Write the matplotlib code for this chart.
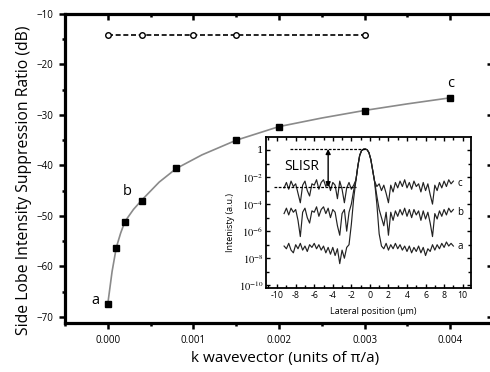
import matplotlib
matplotlib.use("Agg")
import matplotlib.pyplot as plt
from matplotlib.ticker import MultipleLocator, FixedLocator, FixedFormatter, FormatStrFormatter
import numpy as np

plt.rcParams['font.family'] = ['Open Sans', 'DejaVu Sans']
plt.rcParams['mathtext.fontset'] = 'stix'

# ---- main data ----
k_sq = [0.0, 0.0001, 0.0002, 0.0004, 0.0008, 0.0015, 0.002, 0.003, 0.004]
slisr_sq = [-67.4, -56.3, -51.2, -47.0, -40.5, -35.0, -32.4, -29.2, -26.6]

k_fit = [0.0, 0.00005, 0.0001, 0.00015, 0.0002, 0.0003, 0.0004, 0.0006, 0.0008,
         0.0011, 0.0015, 0.002, 0.0025, 0.003, 0.0035, 0.004]
slisr_fit = [-67.4, -61.0, -56.2, -53.4, -51.1, -48.7, -46.8, -43.3, -40.6,
             -37.9, -35.0, -32.3, -30.6, -29.1, -27.8, -26.6]

k_circ = [0.0, 0.0004, 0.001, 0.0015, 0.003]
slisr_circ = [-14.1, -14.1, -14.1, -14.1, -14.1]

point_labels = ['a', 'b', 'c']
label_k = [-0.00015, 0.00023, 0.004]
label_db = [-66.8, -45.2, -23.7]

# ---- inset data (log10 intensity) ----
x_left = [-9.25, -9.0, -8.75, -8.5, -8.25, -8.0, -7.75, -7.5, -7.25, -7.0, -6.75,
          -6.5, -6.25, -6.0, -5.75, -5.5, -5.25, -5.0, -4.75, -4.5, -4.25, -4.0,
          -3.75, -3.5, -3.25, -3.0, -2.75, -2.5, -2.25, -2.0, -1.75]
x_peak = [-1.5, -1.3, -1.1, -0.9, -0.7, -0.5, -0.3, -0.1, 0.1, 0.3, 0.5]
log_peak = [-2.2, -1.2, -0.4, -0.05, 0.05, 0.07, 0.02, -0.2, -0.7, -1.5, -2.3]
x_right = [0.75, 1.0, 1.25, 1.5, 1.75, 2.0, 2.25, 2.5, 2.75, 3.0, 3.25, 3.5,
           3.75, 4.0, 4.25, 4.5, 4.75, 5.0, 5.25, 5.5, 5.75, 6.0, 6.25, 6.5,
           6.75, 7.0, 7.25, 7.5, 7.75, 8.0, 8.25, 8.5, 8.75, 9.0]

c_left = [-2.8, -2.4, -2.9, -2.3, -2.7, -2.5, -3.2, -3.9, -2.6, -2.3, -3.0, -3.4,
          -2.5, -2.6, -2.2, -2.9, -2.4, -2.2, -2.7, -2.3, -3.0, -2.4, -2.6, -3.6,
          -2.3, -2.9, -3.9, -2.8, -2.4, -2.9, -2.6]
b_left = [-4.7, -4.3, -4.8, -4.3, -4.6, -4.4, -5.2, -6.4, -4.6, -4.3, -5.0, -5.4,
          -4.5, -4.6, -4.2, -4.9, -4.4, -4.2, -4.7, -4.3, -5.0, -4.4, -4.6, -5.6,
          -6.3, -4.7, -4.4, -6.0, -4.6, -4.0, -3.0]
a_left = [-7.1, -7.3, -6.9, -7.4, -7.6, -7.0, -7.3, -6.9, -7.4, -7.1, -7.5, -7.0,
          -7.2, -6.9, -7.3, -7.0, -7.4, -7.1, -7.6, -7.2, -7.7, -7.2, -7.8, -7.3,
          -8.4, -7.4, -8.0, -7.2, -7.0, -5.5, -3.6]
c_right = [-2.7, -2.5, -3.0, -2.6, -3.2, -3.9, -2.6, -3.1, -2.4, -2.8, -2.3, -2.7,
           -2.2, -2.8, -2.4, -2.9, -2.3, -2.7, -2.5, -3.1, -2.4, -3.0, -2.5, -3.3,
           -4.0, -2.6, -3.0, -2.4, -2.8, -2.3, -2.7, -2.2, -2.5, -2.3]
b_right = [-3.4, -4.4, -5.0, -5.6, -4.6, -6.3, -4.6, -5.2, -4.5, -4.9, -4.4, -4.8,
           -4.3, -4.9, -4.4, -5.0, -4.4, -4.8, -4.5, -5.2, -4.5, -5.1, -4.6, -5.4,
           -6.4, -4.7, -5.1, -4.5, -4.9, -4.4, -4.8, -4.3, -4.6, -4.4]
a_right = [-4.0, -6.2, -7.1, -7.3, -6.9, -7.4, -7.0, -7.3, -6.9, -7.3, -7.0, -7.4,
           -7.1, -7.5, -7.1, -7.6, -7.2, -7.5, -7.1, -7.6, -7.2, -7.8, -7.3, -7.5,
           -7.0, -7.4, -7.0, -7.3, -6.9, -7.2, -6.8, -7.1, -6.9, -7.1]

curve_names = ['c', 'b', 'a']
curve_label_log = [-2.5, -4.6, -7.1]
slisr_top_log = 0.07
slisr_floor_log = -2.75

fig = plt.figure(figsize=(4.9, 3.72), dpi=100)
ax = fig.add_axes([65/490, 1-323/372, 428/490, 309/372])

ax.plot(k_fit, slisr_fit, color='#8a8a8a', lw=1.2, zorder=2)
ax.plot(k_sq, slisr_sq, ls='none', marker='s', ms=4.2, color='black', zorder=3)
ax.plot(k_circ, slisr_circ, ls=(0, (3.0, 1.6)), lw=1.2, color='black',
        marker='o', ms=4, mfc='white', mec='black', mew=1.0, zorder=3)
for t, xk, yd in zip(point_labels, label_k, label_db):
    ax.text(xk, yd, t, fontsize=10.5, ha='center', va='center')

ax.set_xlim(-0.0005, 0.0045)
ax.set_ylim(-71.2, -10)
ax.xaxis.set_major_locator(MultipleLocator(0.001))
ax.xaxis.set_minor_locator(MultipleLocator(0.0005))
ax.xaxis.set_major_formatter(FormatStrFormatter('%.3f'))
ax.yaxis.set_major_locator(MultipleLocator(10))
ax.yaxis.set_minor_locator(MultipleLocator(5))
for s in ax.spines.values():
    s.set_linewidth(2.3)
ax.tick_params(which='both', direction='out', width=1.8, labelsize=7)
ax.tick_params(which='major', length=4.5, pad=4)
ax.tick_params(which='minor', length=2.5)
ax.tick_params(which='both', top=True, right=True)
# top/right ticks point inward
for tl in ax.xaxis.get_ticklines(minor=False)[1::2] + ax.xaxis.get_ticklines(minor=True)[1::2]:
    tl.set_marker(3)
for tl in ax.yaxis.get_ticklines(minor=False)[1::2] + ax.yaxis.get_ticklines(minor=True)[1::2]:
    tl.set_marker(0)

ax.set_xlabel('k wavevector (units of π/a)', fontsize=11)
ax.set_ylabel('Side Lobe Intensity Suppression Ratio (dB)', fontsize=11.3)
ax.xaxis.set_label_coords(0.513, -0.092)
ax.yaxis.set_label_coords(-0.077, 0.463)

# ---- inset ----
ins = fig.add_axes([266/490, 1-288/372, 205/490, 151/372])
for logs_l, logs_r in [(c_left, c_right), (b_left, b_right), (a_left, a_right)]:
    xs = x_left + x_peak + x_right
    ys = 10.0 ** np.array(logs_l + log_peak + logs_r)
    ins.plot(xs, ys, color='#222222', lw=0.85)
for name, lv in zip(curve_names, curve_label_log):
    ins.text(9.45, 10**lv, name, fontsize=7, ha='left', va='center')
ins.plot([-8.6, -0.5], [10**slisr_top_log]*2, color='black', lw=0.9, ls=(0, (2.2, 1.2)))
ins.plot([-10.3, -1.5], [10**slisr_floor_log]*2, color='black', lw=0.9, ls=(0, (2.2, 1.2)))
ins.annotate('', xy=(-4.5, 10**slisr_top_log), xytext=(-4.5, 10**slisr_floor_log),
             arrowprops=dict(arrowstyle='<|-|>', color='black', lw=1.0,
                             shrinkA=0, shrinkB=0, mutation_scale=7))
ins.text(-7.3, 10**-1.25, 'SLISR', fontsize=10, ha='center', va='center')

ins.set_yscale('log')
ins.set_xlim(-11.2, 10.9)
ins.set_ylim(10**-10.2, 10**0.96)
ins.xaxis.set_major_locator(MultipleLocator(2))
ins.xaxis.set_minor_locator(MultipleLocator(1))
ins.xaxis.set_major_formatter(FormatStrFormatter('%d'))
ymaj = [10.0**e for e in range(0, -11, -2)]
ymin = [10.0**e for e in range(-1, -11, -2)]
ins.yaxis.set_major_locator(FixedLocator(ymaj))
ins.yaxis.set_major_formatter(FixedFormatter(['1', '$10^{-2}$', '$10^{-4}$', '$10^{-6}$', '$10^{-8}$', '$10^{-10}$']))
ins.yaxis.set_minor_locator(FixedLocator(ymin))
ins.yaxis.set_minor_formatter(FixedFormatter([''] * len(ymin)))
for s in ins.spines.values():
    s.set_linewidth(1.3)
ins.tick_params(which='both', direction='in', top=True, right=True, width=1.0)
ins.tick_params(which='major', length=3, pad=2)
ins.tick_params(which='minor', length=2)
ins.tick_params(axis='x', labelsize=6.3)
for lab in ins.get_yticklabels():
    lab.set_fontfamily('serif')
ins.tick_params(axis='y', labelsize=7.5)
ins.set_xlabel('Lateral position (μm)', fontsize=6.5)
ins.set_ylabel('Intenisty (a.u.)', fontsize=6.5)
ins.xaxis.set_label_coords(0.522, -0.125)
ins.yaxis.set_label_coords(-0.15, 0.437)

fig.savefig('out.png', dpi=100)
